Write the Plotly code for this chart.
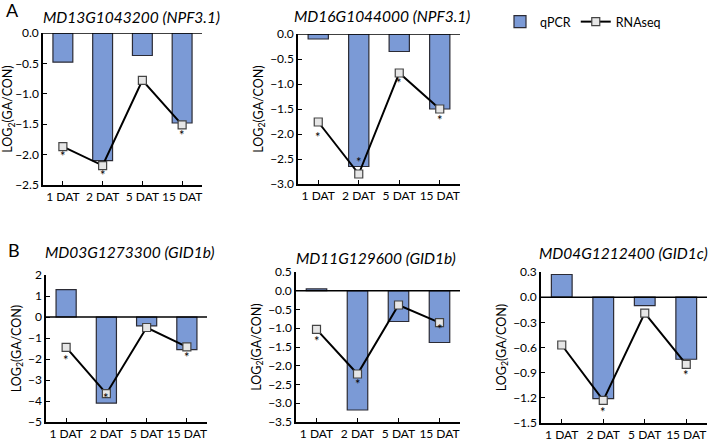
import plotly.graph_objects as go

W, H = 709, 443

days = ["1 DAT", "2 DAT", "5 DAT", "15 DAT"]

titles = [
    "MD13G1043200 (NPF3.1)",
    "MD16G1044000 (NPF3.1)",
    "MD03G1273300 (GID1b)",
    "MD11G129600 (GID1b)",
    "MD04G1212400 (GID1c)",
]

qpcr = [
    [-0.48, -2.1, -0.37, -1.48],
    [-0.1, -2.65, -0.35, -1.5],
    [1.3, -4.1, -0.42, -1.55],
    [0.05, -3.18, -0.82, -1.38],
    [0.27, -1.21, -0.1, -0.74],
]

rnaseq = [
    [-1.87, -2.18, -0.78, -1.51],
    [-1.76, -2.8, -0.78, -1.5],
    [-1.45, -3.65, -0.5, -1.42],
    [-1.03, -2.22, -0.38, -0.85],
    [-0.57, -1.23, -0.19, -0.8],
]

# asterisk positions (None = no asterisk)
stars = [
    [-2.02, -2.33, None, -1.68],
    [-2.05, -2.55, -0.98, -1.73],
    [-2.05, -3.85, None, -1.9],
    [-1.35, -2.48, None, -1.03],
    [None, -1.37, None, -0.93],
]

y_ranges = [[-2.5, 0], [-3.0, 0], [-5, 2], [-3.5, 0.5], [-1.5, 0.3]]
y_dticks = [0.5, 0.5, 1, 0.5, 0.3]
y_fmt = [".1f", ".1f", "d", ".1f", ".1f"]

# panel boxes in pixels: x0, x1, ytop, ybottom
boxes = [
    (43, 202, 33, 185),
    (298, 460, 34, 184),
    (46, 207, 275, 422),
    (296, 460, 272, 422),
    (541, 707, 272, 423),
]
title_pos = [(131, 17), (382, 16), (130, 252), (376, 258), (623, 253)]

BAR = "#7b9ad6"
FONT = "Lato"

fig = go.Figure()
shapes = []
annotations = []

for i in range(5):
    n = "" if i == 0 else str(i + 1)
    x0, x1, yt, yb = boxes[i]
    fig.add_trace(go.Bar(
        x=days, y=qpcr[i], name="qPCR", xaxis="x" + n, yaxis="y" + n,
        marker=dict(color=BAR, line=dict(color="#2b2b35", width=1.2)),
        width=0.5, showlegend=(i == 0),
    ))
    fig.add_trace(go.Scatter(
        x=days, y=rnaseq[i], name="RNAseq", xaxis="x" + n, yaxis="y" + n,
        mode="lines+markers",
        line=dict(color="black", width=2),
        marker=dict(symbol="square", size=8, color="#e6e6e6",
                    line=dict(color="#444", width=1.2)),
        showlegend=(i == 0),
    ))
    fig.update_layout(**{
        "xaxis" + n: dict(
            domain=[x0 / W, x1 / W], anchor="y" + n, range=[-0.5, 3.5],
            showline=True, linecolor="black", linewidth=1.5,
            ticks="inside", ticklen=4, tickcolor="black", tickangle=0,
            tickfont=dict(size=12, color="black", family=FONT),
            showgrid=False, zeroline=False, fixedrange=True, automargin=False,
        ),
        "yaxis" + n: dict(
            domain=[1 - yb / H, 1 - yt / H], anchor="x" + n, range=y_ranges[i],
            dtick=y_dticks[i], tick0=0, tickformat=y_fmt[i],
            showline=True, linecolor="black", linewidth=1.5,
            ticks="inside", ticklen=4, tickcolor="black",
            tickfont=dict(size=12, color="black", family=FONT),
            showgrid=False, zeroline=False, automargin=False,
            title=dict(text="LOG<sub>2</sub>(GA/CON)", standoff=4,
                       font=dict(size=12.5, color="black", family=FONT)),
        ),
    })
    shapes.append(dict(type="line", xref="x" + n + " domain", yref="y" + n,
                       x0=0, x1=1, y0=0, y1=0,
                       line=dict(color="black", width=1.5)))
    for d, s in zip(days, stars[i]):
        if s is not None:
            annotations.append(dict(x=d, y=s, xref="x" + n, yref="y" + n,
                                    text="*", showarrow=False,
                                    font=dict(size=13, color="black", family=FONT)))
    tx, ty = title_pos[i]
    annotations.append(dict(x=tx / W, y=1 - ty / H, xref="paper", yref="paper",
                            text="<i>" + titles[i] + "</i>", showarrow=False,
                            xanchor="center", yanchor="middle",
                            font=dict(size=15.5, color="black", family=FONT)))

annotations.append(dict(x=12 / W, y=1 - 10 / H, xref="paper", yref="paper", text="A",
                        xanchor="center", yanchor="middle",
                        showarrow=False, font=dict(size=18, color="black", family=FONT)))
annotations.append(dict(x=14 / W, y=1 - 250 / H, xref="paper", yref="paper", text="B",
                        xanchor="center", yanchor="middle",
                        showarrow=False, font=dict(size=18, color="black", family=FONT)))

fig.update_layout(
    width=W, height=H,
    margin=dict(l=0, r=0, t=0, b=0),
    paper_bgcolor="white", plot_bgcolor="white",
    barmode="overlay",
    showlegend=True,
    legend=dict(orientation="h", x=500 / W, y=1 - 7 / H, xanchor="left", yanchor="top",
                font=dict(size=12.5, color="black", family=FONT),
                itemwidth=30, tracegroupgap=0, bgcolor="rgba(0,0,0,0)"),
    shapes=shapes,
    annotations=annotations,
)

fig.write_html("out.html", config={"displayModeBar": False},
               post_script="document.body.style.margin='0';")
